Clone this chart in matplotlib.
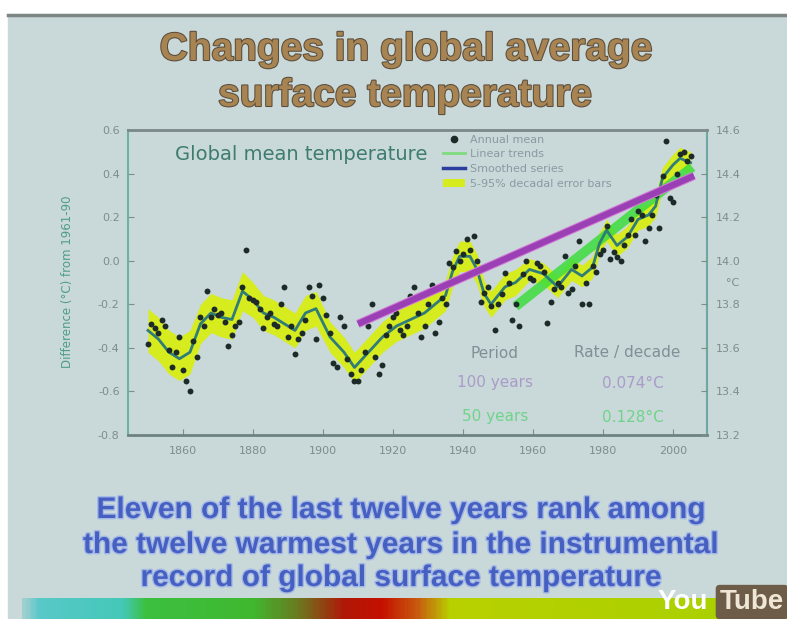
import numpy as np
import matplotlib.pyplot as plt
import matplotlib.patheffects as pe
from matplotlib.lines import Line2D
from matplotlib.patches import Patch, Rectangle
from matplotlib.colors import LinearSegmentedColormap

# annual global mean anomaly (deg C from 1961-90)
years = np.arange(1850, 2006)
annual = [
    -0.38, -0.29, -0.31, -0.33, -0.27, -0.30, -0.41, -0.49, -0.42, -0.35,
    -0.50, -0.55, -0.60, -0.37, -0.44, -0.26, -0.30, -0.14, -0.26, -0.22,
    -0.25, -0.24, -0.28, -0.39, -0.34, -0.30, -0.28, -0.12, 0.05, -0.17,
    -0.18, -0.19, -0.22, -0.31, -0.26, -0.24, -0.29, -0.30, -0.20, -0.12,
    -0.35, -0.30, -0.43, -0.36, -0.33, -0.27, -0.12, -0.16, -0.36, -0.11,
    -0.17, -0.25, -0.33, -0.47, -0.49, -0.26, -0.30, -0.45, -0.52, -0.55,
    -0.55, -0.50, -0.42, -0.30, -0.20, -0.44, -0.52, -0.48, -0.34, -0.30,
    -0.26, -0.24, -0.32, -0.34, -0.30, -0.16, -0.12, -0.24, -0.35, -0.30,
    -0.20, -0.11, -0.33, -0.28, -0.17, -0.20, -0.01, -0.03, 0.045, 0.00,
    0.03, 0.10, 0.05, 0.115, 0.00, -0.19, -0.15, -0.12, -0.21, -0.32,
    -0.20, -0.155, -0.055, -0.10, -0.27, -0.20, -0.30, -0.06, 0.00, -0.08,
    -0.09, -0.01, -0.025, -0.05, -0.285, -0.19, -0.13, -0.10, -0.12, 0.02,
    -0.15, -0.13, -0.025, 0.09, -0.20, -0.10, -0.20, -0.025, -0.05, 0.03,
    0.05, 0.16, 0.01, 0.04, 0.015, 0.00, 0.07, 0.12, 0.19, 0.12,
    0.23, 0.21, 0.09, 0.15, 0.21, 0.30, 0.15, 0.39, 0.55, 0.29,
    0.27, 0.40, 0.49, 0.50, 0.46, 0.48,
]

# smoothed (decadal) series and its 5-95% half width
smooth_years = [1850, 1853, 1856, 1859, 1862, 1865, 1868, 1871, 1874, 1877,
                1880, 1883, 1886, 1889, 1892, 1895, 1898, 1902, 1906, 1909,
                1913, 1917, 1921, 1925, 1929, 1932, 1935, 1937, 1939, 1942,
                1944, 1946, 1948, 1952, 1955, 1959, 1963, 1967, 1971, 1974,
                1977, 1979, 1981, 1984, 1987, 1990, 1993, 1995, 1997, 2000,
                2002, 2005]
smooth_vals = [-0.32, -0.36, -0.42, -0.45, -0.42, -0.29, -0.24, -0.26, -0.27, -0.14,
               -0.18, -0.24, -0.26, -0.29, -0.32, -0.24, -0.22, -0.35, -0.42, -0.49,
               -0.42, -0.35, -0.30, -0.27, -0.24, -0.20, -0.16, -0.05, 0.02, 0.02,
               -0.04, -0.15, -0.20, -0.12, -0.10, -0.04, -0.06, -0.12, -0.04, -0.07,
               -0.03, 0.08, 0.14, 0.07, 0.11, 0.19, 0.21, 0.25, 0.38, 0.44,
               0.47, 0.45]
band_half = [0.10, 0.10, 0.10, 0.10, 0.10, 0.09, 0.09, 0.09, 0.09, 0.09,
             0.08, 0.08, 0.08, 0.08, 0.08, 0.08, 0.08, 0.07, 0.07, 0.07,
             0.07, 0.07, 0.07, 0.07, 0.07, 0.07, 0.07, 0.07, 0.07, 0.07,
             0.07, 0.06, 0.06, 0.06, 0.06, 0.05, 0.05, 0.05, 0.05, 0.05,
             0.05, 0.05, 0.05, 0.05, 0.05, 0.05, 0.05, 0.05, 0.05, 0.05,
             0.05, 0.05]

# linear trends (end points)
trend100_years = [1910, 2006]
trend100_vals = [-0.29, 0.39]
trend50_years = [1955, 2005.5]
trend50_vals = [-0.21, 0.43]

periods = ['100 years', '50 years']
rates = ['0.074°C', '0.128°C']

W, H = 787, 619
def fx(px):
    return px / W
def fy(py):
    return 1 - py / H

bold_sans = ['Liberation Sans', 'DejaVu Sans']
bg = '#c9d8d8'

fig = plt.figure(figsize=(7.87, 6.19), dpi=100)
fig.patch.set_facecolor('white')
fig.add_artist(Rectangle((fx(8), 0), 1, fy(15), transform=fig.transFigure,
                         color=bg, zorder=0))
fig.add_artist(Line2D([fx(8), 1], [fy(15), fy(15)], color='#7d8585', lw=2.5))

# coloured bar at the bottom of the video frame
stops = [(0.0, '#9fd0d0'), (0.02, '#58c8c8'), (0.13, '#44c8b8'), (0.16, '#3cc040'),
         (0.30, '#40b830'), (0.36, '#6a7a20'), (0.42, '#b01808'), (0.47, '#c41000'),
         (0.52, '#c86010'), (0.56, '#b8d000'), (1.0, '#a8d000')]
cmap = LinearSegmentedColormap.from_list('bar', stops)
ax_bar = fig.add_axes([fx(22), 0, 1 - fx(22), 21 / H])
ax_bar.imshow(np.linspace(0, 1, 400)[None, :], cmap=cmap, aspect='auto')
ax_bar.axis('off')

# titles
title_fx = [pe.withStroke(linewidth=1.5, foreground='#5a4c3c')]
fig.text(fx(406), fy(50), 'Changes in global average', ha='center', va='center',
         fontsize=28, weight='bold', color='#a88452', family=bold_sans, path_effects=title_fx)
fig.text(fx(405), fy(96), 'surface temperature', ha='center', va='center',
         fontsize=28, weight='bold', color='#a88452', family=bold_sans, path_effects=title_fx)

foot_fx = [pe.withStroke(linewidth=2, foreground='#a4b8e8')]
foot = ['Eleven of the last twelve years rank among',
        'the twelve warmest years in the instrumental',
        'record of global surface temperature']
for txt, y in zip(foot, [510, 545, 578]):
    fig.text(fx(401), fy(y), txt, ha='center', va='center', fontsize=21.5, weight='bold',
             color='#4660c2', family=bold_sans, path_effects=foot_fx, zorder=2)

fig.text(fx(683), fy(602), 'You', color='white', fontsize=20, weight='bold',
         family=bold_sans, ha='center', va='center', zorder=5)
fig.text(fx(752), fy(602), 'Tube', color='#efe6d6', fontsize=20, weight='bold',
         family=bold_sans, ha='center', va='center', zorder=5,
         bbox=dict(boxstyle='round,pad=0.15', fc='#6d5c48', ec='none'))

# main chart
ax = fig.add_axes([fx(128), fy(435), (707 - 128) / W, (435 - 130) / H])
ax.set_facecolor(bg)
lo = np.array(smooth_vals) - np.array(band_half)
hi = np.array(smooth_vals) + np.array(band_half)
ax.fill_between(smooth_years, lo, hi, color='#d6ec1e', lw=0, zorder=1)
ax.plot(trend50_years, trend50_vals, color='#3ddc3d', lw=7, alpha=0.85,
        solid_capstyle='butt', zorder=2)
ax.plot(smooth_years, smooth_vals, color='#2f7c78', lw=2, zorder=3)
ax.scatter(years, annual, s=18, color='#1c2b28', zorder=4, lw=0)
ax.plot(trend100_years, trend100_vals, color='#9b3fb5', lw=4.5, zorder=5,
        solid_capstyle='butt',
        path_effects=[pe.Stroke(linewidth=6, foreground='#d27ad6'), pe.Normal()])

yt = np.round(np.arange(-0.8, 0.61, 0.2), 1)
ax.set_xlim(1844.3, 2009.7)
ax.set_ylim(-0.8, 0.6)
ax.set_xticks(range(1860, 2001, 20))
ax.set_yticks(yt)
ax.set_yticklabels(['%.1f' % abs(v) if v == 0 else '%.1f' % v for v in yt])
ax.tick_params(direction='in', length=4, colors='#7d8d8d', labelsize=8, pad=6)
ax.tick_params(axis='x', pad=8)
for s, c, w in [('top', '#7a8888', 2), ('bottom', '#6f8282', 2),
                ('left', '#6fb0a8', 1.5), ('right', '#6fa8a0', 1.5)]:
    ax.spines[s].set_color(c)
    ax.spines[s].set_linewidth(w)

ax2 = ax.twinx()
yt2 = np.round(np.arange(13.2, 14.61, 0.2), 1)
ax2.set_ylim(13.2, 14.6)
ax2.set_yticks(yt2)
ax2.set_yticklabels(['%.1f' % v for v in yt2])
ax2.tick_params(direction='in', length=4, colors='#7d8d8d', labelsize=8, pad=6)
for s in ax2.spines.values():
    s.set_visible(False)

fig.text(fx(67), fy(282), 'Difference (°C) from 1961-90', rotation=90, ha='center',
         va='center', fontsize=8.5, color='#4f9c8c')
fig.text(fx(733), fy(283), '°C', ha='center', va='center', fontsize=8, color='#7d8d8d')
fig.text(fx(175), fy(155), 'Global mean temperature', va='center', fontsize=14,
         color='#3e7c70')

handles = [Line2D([], [], ls='none', marker='o', ms=4.5, color='#1c2b28'),
           Line2D([], [], color='#7ddc7d', lw=2),
           Line2D([], [], color='#2c3fa0', lw=2.5),
           Patch(fc='#d6ec1e', ec='none')]
ax.legend(handles, ['Annual mean', 'Linear trends', 'Smoothed series',
                    '5-95% decadal error bars'],
          loc='upper left', bbox_to_anchor=(0.544, 0.985), frameon=False, fontsize=8,
          labelcolor='#8a9aa2', handlelength=2.0, handletextpad=0.4,
          labelspacing=0.42, borderaxespad=0, borderpad=0)

# period / rate table
fig.text(fx(494), fy(353), 'Period', ha='center', va='center', fontsize=11, color='#7f9096')
fig.text(fx(627), fy(353), 'Rate / decade', ha='center', va='center', fontsize=11,
         color='#7f9096')
for p, r, y, c in zip(periods, rates, [383, 417], ['#a99cc9', '#6fd48a']):
    fig.text(fx(495), fy(y), p, ha='center', va='center', fontsize=11, color=c)
    fig.text(fx(633), fy(y), r, ha='center', va='center', fontsize=11, color=c)

fig.savefig('out.png', dpi=100, facecolor=fig.get_facecolor())
